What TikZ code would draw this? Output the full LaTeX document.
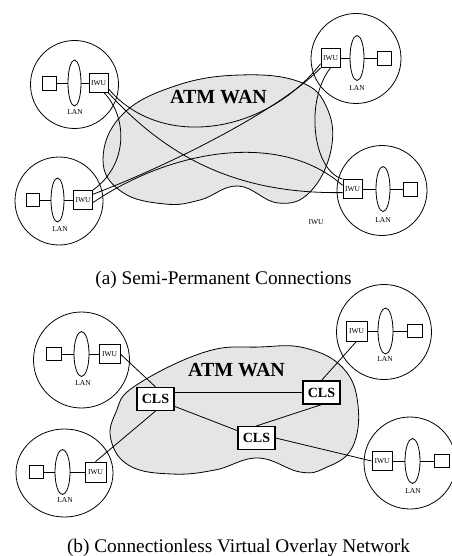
\documentclass[tikz,border=0pt]{standalone}
\usepackage{fontspec}
\setmainfont{Liberation Serif}
\usetikzlibrary{shapes.geometric}
\definecolor{wangray}{RGB}{229,229,229}
\tikzset{
  site/.style={draw, line width=0.8pt},
  lanell/.style={draw, ellipse, line width=0.8pt, inner sep=0pt},
  host/.style={draw, rectangle, line width=0.8pt, inner sep=0pt, fill=white},
  iwu/.style={draw, rectangle, line width=0.8pt, inner sep=0pt, fill=white, font=\fontsize{7.5}{8}\selectfont},
  lanlabel/.style={font=\fontsize{7.5}{8}\selectfont, inner sep=0pt},
  cls/.style={draw, rectangle, line width=1.2pt, inner sep=0pt, fill=white, minimum width=37pt, minimum height=23pt, font=\fontsize{14}{16}\selectfont\bfseries},
  wan/.style={draw, line width=0.8pt, fill=wangray},
  wanlabel/.style={font=\fontsize{20}{22}\selectfont\bfseries, inner sep=0pt},
  captext/.style={font=\fontsize{19.3}{22}\selectfont, inner sep=0pt, anchor=base},
  conn/.style={line width=0.8pt},
}
\begin{document}
\begin{tikzpicture}[x=1pt,y=-1pt]
\fill[white] (0,0) rectangle (451,556);
\useasboundingbox (0,0) rectangle (451,556);

% ================= (a) =================
\draw[wan] plot[smooth cycle, tension=0.7] coordinates {(103,160) (122,115) (175,86) (240,75) (300,82) (327,108) (331,150) (310,192) (278,203) (238,186) (200,200) (165,204) (122,192)};
\node[wanlabel] (wana) at (218.5,97.5) {ATM WAN};

% top-left site
\draw[site] (74.5,84.5) circle[radius=44pt];
\node[host, minimum size=14pt] (ha1) at (49,83) {};
\node[lanell, minimum width=13pt, minimum height=46pt] (la1) at (74.5,83) {};
\node[iwu, minimum size=19pt] (ia1) at (98.5,83) {IWU};
\node[lanlabel] (lta1) at (75,112) {LAN};
\draw[conn] (ha1) -- (la1) -- (ia1);

% top-right site
\draw[site] (356,58.5) circle[radius=45pt];
\node[iwu, minimum size=19pt] (ia2) at (330.5,58) {IWU};
\node[lanell, minimum width=14pt, minimum height=45pt] (la2) at (357,58) {};
\node[host, minimum size=14pt] (ha2) at (384,58) {};
\node[lanlabel] (lta2) at (357,88) {LAN};
\draw[conn] (ia2) -- (la2) -- (ha2);

% bottom-left site
\draw[site] (59,201) circle[radius=44pt];
\node[host, minimum size=13pt] (ha3) at (32.5,200) {};
\node[lanell, minimum width=13pt, minimum height=44pt] (la3) at (57.5,200) {};
\node[iwu, minimum size=19pt] (ia3) at (83,200) {IWU};
\node[lanlabel] (lta3) at (60,229) {LAN};
\draw[conn] (ha3) -- (la3) -- (ia3);

% bottom-right site
\draw[site] (382,190.5) circle[radius=45pt];
\node[iwu, minimum size=19pt] (ia4) at (352.5,189) {IWU};
\node[lanell, minimum width=14pt, minimum height=45pt] (la4) at (383,189) {};
\node[host, minimum size=14pt] (ha4) at (410,189) {};
\node[lanlabel] (lta4) at (383,220) {LAN};
\draw[conn] (ia4) -- (la4) -- (ha4);
\node[lanlabel] (stray) at (316,222) {IWU};

% semi-permanent connections
\draw[conn] (ia1.-30) .. controls (160,150) and (265,135) .. (ia2.-150);
\draw[conn] (ia1.-60) .. controls (128,118) and (128,165) .. (ia3.north east);
\draw[conn] (ia1.south east) .. controls (170,160) and (240,194) .. (ia4.-160);
\draw[conn] (ia2.south west) .. controls (280,110) and (170,165) .. (ia3.30);
\draw[conn] (ia2.south) .. controls (305,100) and (312,170) .. (ia4.north west);
\draw[conn] (ia3.-15) .. controls (170,150) and (280,130) .. (ia4.160);

\node[captext] (capa) at (223.5,284) {(a) Semi-Permanent Connections};

% ================= (b) =================
\draw[wan] plot[smooth cycle, tension=0.7] coordinates {(111,440) (116,412) (135,386) (205,352) (260,347) (305,348) (343,368) (358,405) (352,448) (325,468) (300,472) (258,458) (215,470) (172,474) (130,466)};
\node[wanlabel] (wanb) at (236.5,370) {ATM WAN};

% top-left site
\draw[site] (81.5,360) circle[radius=48pt];
\node[host, minimum width=15pt, minimum height=13pt] (hb1) at (54,354) {};
\node[lanell, minimum width=15pt, minimum height=45pt] (lb1) at (81.5,354) {};
\node[iwu, minimum width=21pt, minimum height=19pt] (ib1) at (109.5,354) {IWU};
\node[lanlabel] (ltb1) at (83,383) {LAN};
\draw[conn] (hb1) -- (lb1) -- (ib1);

% top-right site
\draw[site] (384,332) circle[radius=47.5pt];
\node[iwu, minimum width=21pt, minimum height=20pt] (ib2) at (356.5,331) {IWU};
\node[lanell, minimum width=15pt, minimum height=46pt] (lb2) at (385.5,331) {};
\node[host, minimum width=15pt, minimum height=13pt] (hb2) at (414.5,331) {};
\node[lanlabel] (ltb2) at (385,359) {LAN};
\draw[conn] (ib2) -- (lb2) -- (hb2);

% bottom-left site
\draw[site] (64.5,473) ellipse[x radius=48.5pt, y radius=44pt];
\node[host, minimum width=14pt, minimum height=13pt] (hb3) at (36,472) {};
\node[lanell, minimum width=15pt, minimum height=45pt] (lb3) at (62.5,472) {};
\node[iwu, minimum width=21pt, minimum height=20pt] (ib3) at (95.5,472) {IWU};
\node[lanlabel] (ltb3) at (65,500) {LAN};
\draw[conn] (hb3) -- (lb3) -- (ib3);

% bottom-right site
\draw[site] (410,463) circle[radius=46pt];
\node[iwu, minimum width=20pt, minimum height=19pt] (ib4) at (382,461) {IWU};
\node[lanell, minimum width=15pt, minimum height=45pt] (lb4) at (412.5,461) {};
\node[host, minimum width=15pt, minimum height=13pt] (hb4) at (441.5,461) {};
\node[lanlabel] (ltb4) at (413,491) {LAN};
\draw[conn] (ib4) -- (lb4) -- (hb4);

% CLS servers
\node[cls] (cls1) at (155.5,399) {CLS};
\node[cls] (cls2) at (321.5,392.5) {CLS};
\node[cls] (cls3) at (256.5,438) {CLS};

\draw[conn] (ib1.east) -- (cls1.north);
\draw[conn] (cls2.west) -- (cls2.west -| cls1.east);
\draw[conn] (cls1) -- (cls3);
\draw[conn] (cls3.north) -- (cls2.south);
\draw[conn] (cls2.north) -- (ib2.south);
\draw[conn] (cls1.south) -- (ib3.north);
\draw[conn] (cls3.east) -- (ib4.west);

\node[captext] (capb) at (238.5,552) {(b) Connectionless Virtual Overlay Network};
\end{tikzpicture}
\end{document}
